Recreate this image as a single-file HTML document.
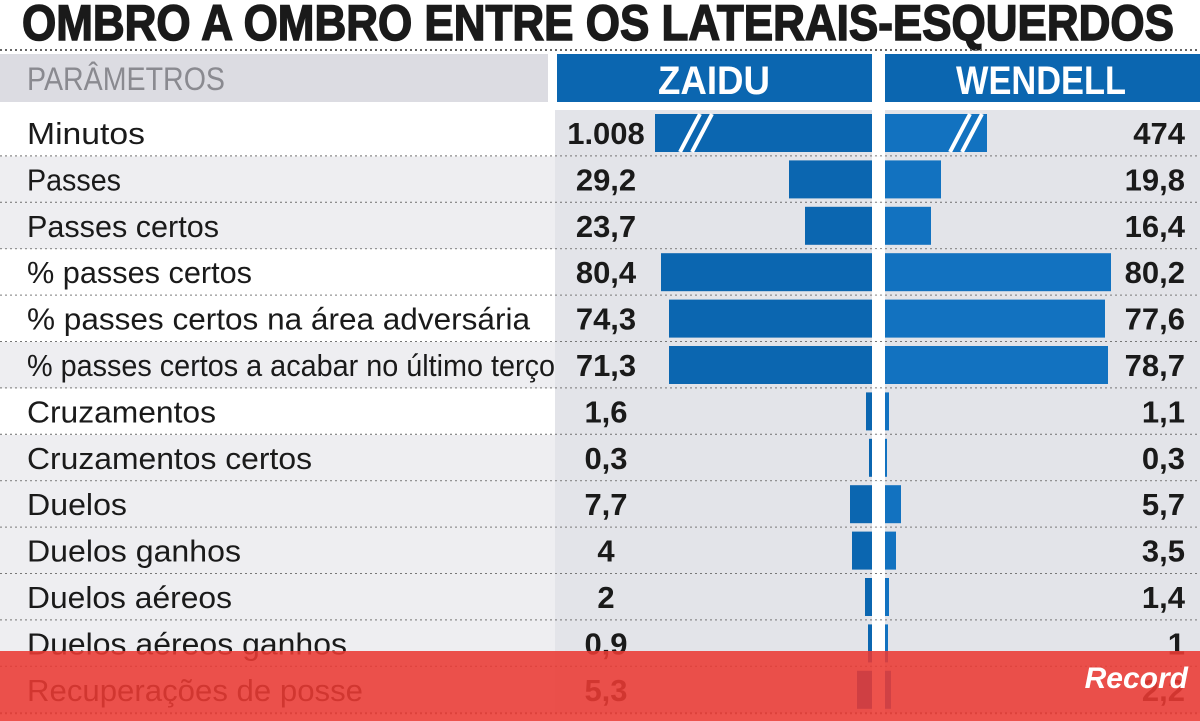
<!DOCTYPE html>
<html><head><meta charset="utf-8"><style>
html,body{margin:0;padding:0;background:#fff;}
svg{display:block;}
text{font-family:"Liberation Sans Narrow","Liberation Sans",sans-serif;}
</style></head><body>
<svg width="1200" height="721" viewBox="0 0 1200 721" xmlns="http://www.w3.org/2000/svg">
<rect width="1200" height="721" fill="#fff"/>
<text x="22" y="40" font-size="50" font-weight="bold" fill="#1a1a1a" stroke="#1a1a1a" stroke-width="1.5" textLength="1152" lengthAdjust="spacingAndGlyphs">OMBRO A OMBRO ENTRE OS LATERAIS-ESQUERDOS</text>
<line x1="0" y1="50" x2="1200" y2="50" stroke="#666" stroke-width="2" stroke-dasharray="2 3"/>
<rect x="0" y="54" width="548" height="48" fill="#dcdce2"/>
<text x="27" y="90" font-size="32" fill="#8a8a90" textLength="198" lengthAdjust="spacingAndGlyphs">PARÂMETROS</text>
<rect x="557" y="54" width="315" height="48" fill="#0b66b0"/>
<rect x="885" y="54" width="315" height="48" fill="#0b66b0"/>
<text x="714" y="94" font-size="40" font-weight="bold" fill="#fff" text-anchor="middle" textLength="112" lengthAdjust="spacingAndGlyphs">ZAIDU</text>
<text x="1041" y="94" font-size="40" font-weight="bold" fill="#fff" text-anchor="middle" textLength="170" lengthAdjust="spacingAndGlyphs">WENDELL</text>
<g id="rows"></g>
<rect x="0" y="651" width="1200" height="70" fill="#ea3a33" fill-opacity="0.88"/>
<text x="1188" y="688" font-size="30" font-weight="bold" font-style="italic" fill="#fff" text-anchor="end" font-family="Liberation Serif,serif">Record</text>
</svg>
<script>
const rows=[
["Minutos","1.008","474",655,987,true],
["Passes","29,2","19,8",789,941],
["Passes certos","23,7","16,4",805,931],
["% passes certos","80,4","80,2",661,1111],
["% passes certos na área adversária","74,3","77,6",669,1105],
["% passes certos a acabar no último terço","71,3","78,7",669,1108],
["Cruzamentos","1,6","1,1",866,889],
["Cruzamentos certos","0,3","0,3",869,887],
["Duelos","7,7","5,7",850,901],
["Duelos ganhos","4","3,5",852,896],
["Duelos aéreos","2","1,4",865,889],
["Duelos aéreos ganhos","0,9","1",868,888],
["Recuperações de posse","5,3","2,2",857,891]];
const widths={0:118,1:94,2:192,3:225,4:503,5:528,6:189,7:285,8:100,9:214,10:205,11:320,12:336};
let s="";
rows.forEach((r,i)=>{
 const t=110+i*46.4;
 s+=`<rect x="0" y="${t}" width="555" height="46.4" fill="${i%3==0&&i<7||i==4?'#fff':'#eeeef1'}"/>`;
 s+=`<rect x="555" y="${t}" width="645" height="46.4" fill="#e3e4e9"/>`;
 s+=`<rect x="872" y="${t}" width="13" height="46.4" fill="#fff"/>`;
 s+=`<rect x="${r[3]}" y="${t+4}" width="${872-r[3]}" height="38" fill="#0b66b0"/>`;
 s+=`<rect x="885" y="${t+4}" width="${r[4]-885}" height="38" fill="#1272c0"/>`;
 if(r[5]){s+=`<path d="M680 ${t+42}L700 ${t+4}M692 ${t+42}L712 ${t+4}M950 ${t+42}L970 ${t+4}M962 ${t+42}L982 ${t+4}" stroke="#fff" stroke-width="4"/>`;}
 s+=`<text x="27" y="${t+34}" font-size="31" fill="#1a1a1a" textLength="${widths[i]}" lengthAdjust="spacingAndGlyphs">${r[0]}</text>`;
 s+=`<text x="606" y="${t+34}" font-size="31" font-weight="bold" fill="#1a1a1a" text-anchor="middle">${r[1]}</text>`;
 s+=`<text x="1185" y="${t+34}" font-size="31" font-weight="bold" fill="#1a1a1a" text-anchor="end">${r[2]}</text>`;
 s+=`<line x1="0" y1="${t+46.4}" x2="1200" y2="${t+46.4}" stroke="#777" stroke-width="2" stroke-dasharray="2 3"/>`;
});
document.getElementById("rows").innerHTML=s;
</script>
</body></html>
